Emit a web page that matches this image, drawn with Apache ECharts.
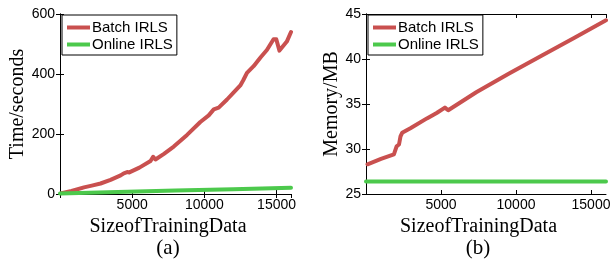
<!DOCTYPE html>
<html>
<head>
<meta charset="utf-8">
<script src="https://cdn.jsdelivr.net/npm/echarts@6/dist/echarts.min.js"></script>
<style>
html,body{margin:0;padding:0;background:#fff;}
#c{width:616px;height:268px;}
</style>
</head>
<body>
<div id="c"></div>
<script>
// ---- data ----
const seriesNames = ['Batch IRLS', 'Online IRLS'];
const panelLabels = ['(a)', '(b)'];
const xTitle = 'SizeofTrainingData';
const yTitles = ['Time/seconds', 'Memory/MB'];

// panel (a): time in seconds
const batchTimeX = [100, 800, 1660, 2200, 2810, 3500, 4200, 4420, 4650, 4800, 5500, 6270, 6450, 6610, 7200, 7880, 8800, 9720, 10300, 10650, 10990, 11570, 12000, 12490, 12700, 12950, 13410, 13900, 14330, 14790, 14980, 15200, 15710, 16000];
const batchTimeY = [3, 10, 22, 28, 35, 47, 62, 69, 73, 72, 88, 110, 124, 115, 134, 158, 197, 240, 262, 282, 288, 315, 337, 362, 380, 404, 426, 456, 480, 516, 516, 478, 508, 540];
const onlineTimeX = [0, 4000, 8000, 12000, 16000];
const onlineTimeY = [2, 7, 11.5, 16, 21];

// panel (b): memory in MB
const batchMemX = [100, 1000, 1860, 1970, 2040, 2200, 2300, 2410, 2960, 4060, 4710, 5260, 5480, 5590, 7350, 9540, 11730, 13930, 16000];
const batchMemY = [28.3, 28.9, 29.4, 29.6, 30.3, 30.5, 31.4, 31.8, 32.3, 33.4, 34.0, 34.6, 34.3, 34.4, 36.3, 38.4, 40.4, 42.4, 44.3];
const onlineMemX = [0, 16000];
const onlineMemY = [26.4, 26.4];

// axis ranges / ticks
const xRange = [0, 16000, 5000];
const yRanges = [[0, 600, 200], [25, 45, 5]];

// ---- build ----
const RED = '#c9504f', GREEN = '#4cc94c';
const zip = (xs, ys) => xs.map((x, i) => [x, ys[i]]);
const sans = 'Liberation Sans, Arial, Helvetica, sans-serif';
const serif = 'Liberation Serif, Times New Roman, serif';

const grids = [
  {left: 60, top: 14, width: 231, height: 180},
  {left: 366, top: 14, width: 240, height: 180}
];

function xAxes(gi) {
  return [
    {
      type: 'value', gridIndex: gi, position: 'bottom',
      min: xRange[0], max: xRange[1], interval: xRange[2],
      name: xTitle, nameLocation: 'middle', nameGap: 18,
      nameTextStyle: {fontFamily: serif, fontSize: 20, color: '#000', padding: [0, 15, 0, 0]},
      axisLine: {show: true, lineStyle: {color: '#000', width: 1}},
      axisTick: {show: true, inside: true, length: 4, lineStyle: {color: '#000'}},
      axisLabel: {show: true, showMinLabel: false, showMaxLabel: false, margin: 4,
        fontFamily: sans, fontSize: 14, color: '#000',
        formatter: v => (v === 0 ? '' : String(v))},
      splitLine: {show: false}
    },
    {
      type: 'value', gridIndex: gi, position: 'top',
      min: xRange[0], max: xRange[1], interval: xRange[2],
      axisLine: {show: true, lineStyle: {color: '#000', width: 1}},
      axisTick: {show: true, inside: true, length: 4, lineStyle: {color: '#000'}},
      axisLabel: {show: false}, splitLine: {show: false}
    }
  ];
}
function yAxes(gi) {
  const r = yRanges[gi];
  return [
    {
      type: 'value', gridIndex: gi, position: 'left',
      min: r[0], max: r[1], interval: r[2],
      name: yTitles[gi], nameLocation: 'middle', nameGap: gi === 0 ? 30 : 22,
      nameTextStyle: {fontFamily: serif, fontSize: 20, color: '#000'},
      axisLine: {show: true, lineStyle: {color: '#000', width: 1}},
      axisTick: {show: true, inside: true, length: 4, lineStyle: {color: '#000'}},
      axisLabel: {show: true, margin: 5, fontFamily: sans, fontSize: 14, color: '#000'},
      splitLine: {show: false}
    },
    {
      type: 'value', gridIndex: gi, position: 'right',
      min: r[0], max: r[1], interval: r[2],
      axisLine: {show: true, lineStyle: {color: '#000', width: 1}},
      axisTick: {show: true, inside: true, length: 4, lineStyle: {color: '#000'}},
      axisLabel: {show: false}, splitLine: {show: false}
    }
  ];
}

function lineSeries(name, data, color, xi, yi, z) {
  return {
    type: 'line', name: name, data: data,
    xAxisIndex: xi, yAxisIndex: yi,
    showSymbol: false, symbol: 'none', smooth: false,
    lineStyle: {color: color, width: 4, cap: 'round', join: 'round'},
    itemStyle: {color: color},
    animation: false, z: z
  };
}

function legend(left) {
  return {
    left: left, top: 15, orient: 'vertical',
    data: seriesNames,
    icon: 'rect', itemWidth: 23, itemHeight: 4, itemGap: 2,
    padding: [5, 4, 3, 5],
    borderColor: '#000', borderWidth: 1, backgroundColor: '#fff',
    textStyle: {fontFamily: sans, fontSize: 15, lineHeight: 15, color: '#000', padding: [0, 0, 0, -3]},
    selectedMode: false
  };
}

const option = {
  backgroundColor: '#fff',
  animation: false,
  grid: grids,
  xAxis: [...xAxes(0), ...xAxes(1)],
  yAxis: [...yAxes(0), ...yAxes(1)],
  legend: [legend(62), legend(368)],
  title: [
    {text: panelLabels[0], left: 168, top: 238, textAlign: 'center',
      textStyle: {fontFamily: serif, fontSize: 21, fontWeight: 'normal', color: '#000'}, padding: 0},
    {text: panelLabels[1], left: 478, top: 238, textAlign: 'center',
      textStyle: {fontFamily: serif, fontSize: 21, fontWeight: 'normal', color: '#000'}, padding: 0}
  ],
  series: [
    lineSeries(seriesNames[0], zip(batchTimeX, batchTimeY), RED, 0, 0, 3),
    lineSeries(seriesNames[1], zip(onlineTimeX, onlineTimeY), GREEN, 0, 0, 4),
    lineSeries(seriesNames[0], zip(batchMemX, batchMemY), RED, 2, 2, 3),
    lineSeries(seriesNames[1], zip(onlineMemX, onlineMemY), GREEN, 2, 2, 4)
  ]
};

const chart = echarts.init(document.getElementById('c'), null, {renderer: 'canvas'});
chart.setOption(option);
</script>
</body>
</html>
